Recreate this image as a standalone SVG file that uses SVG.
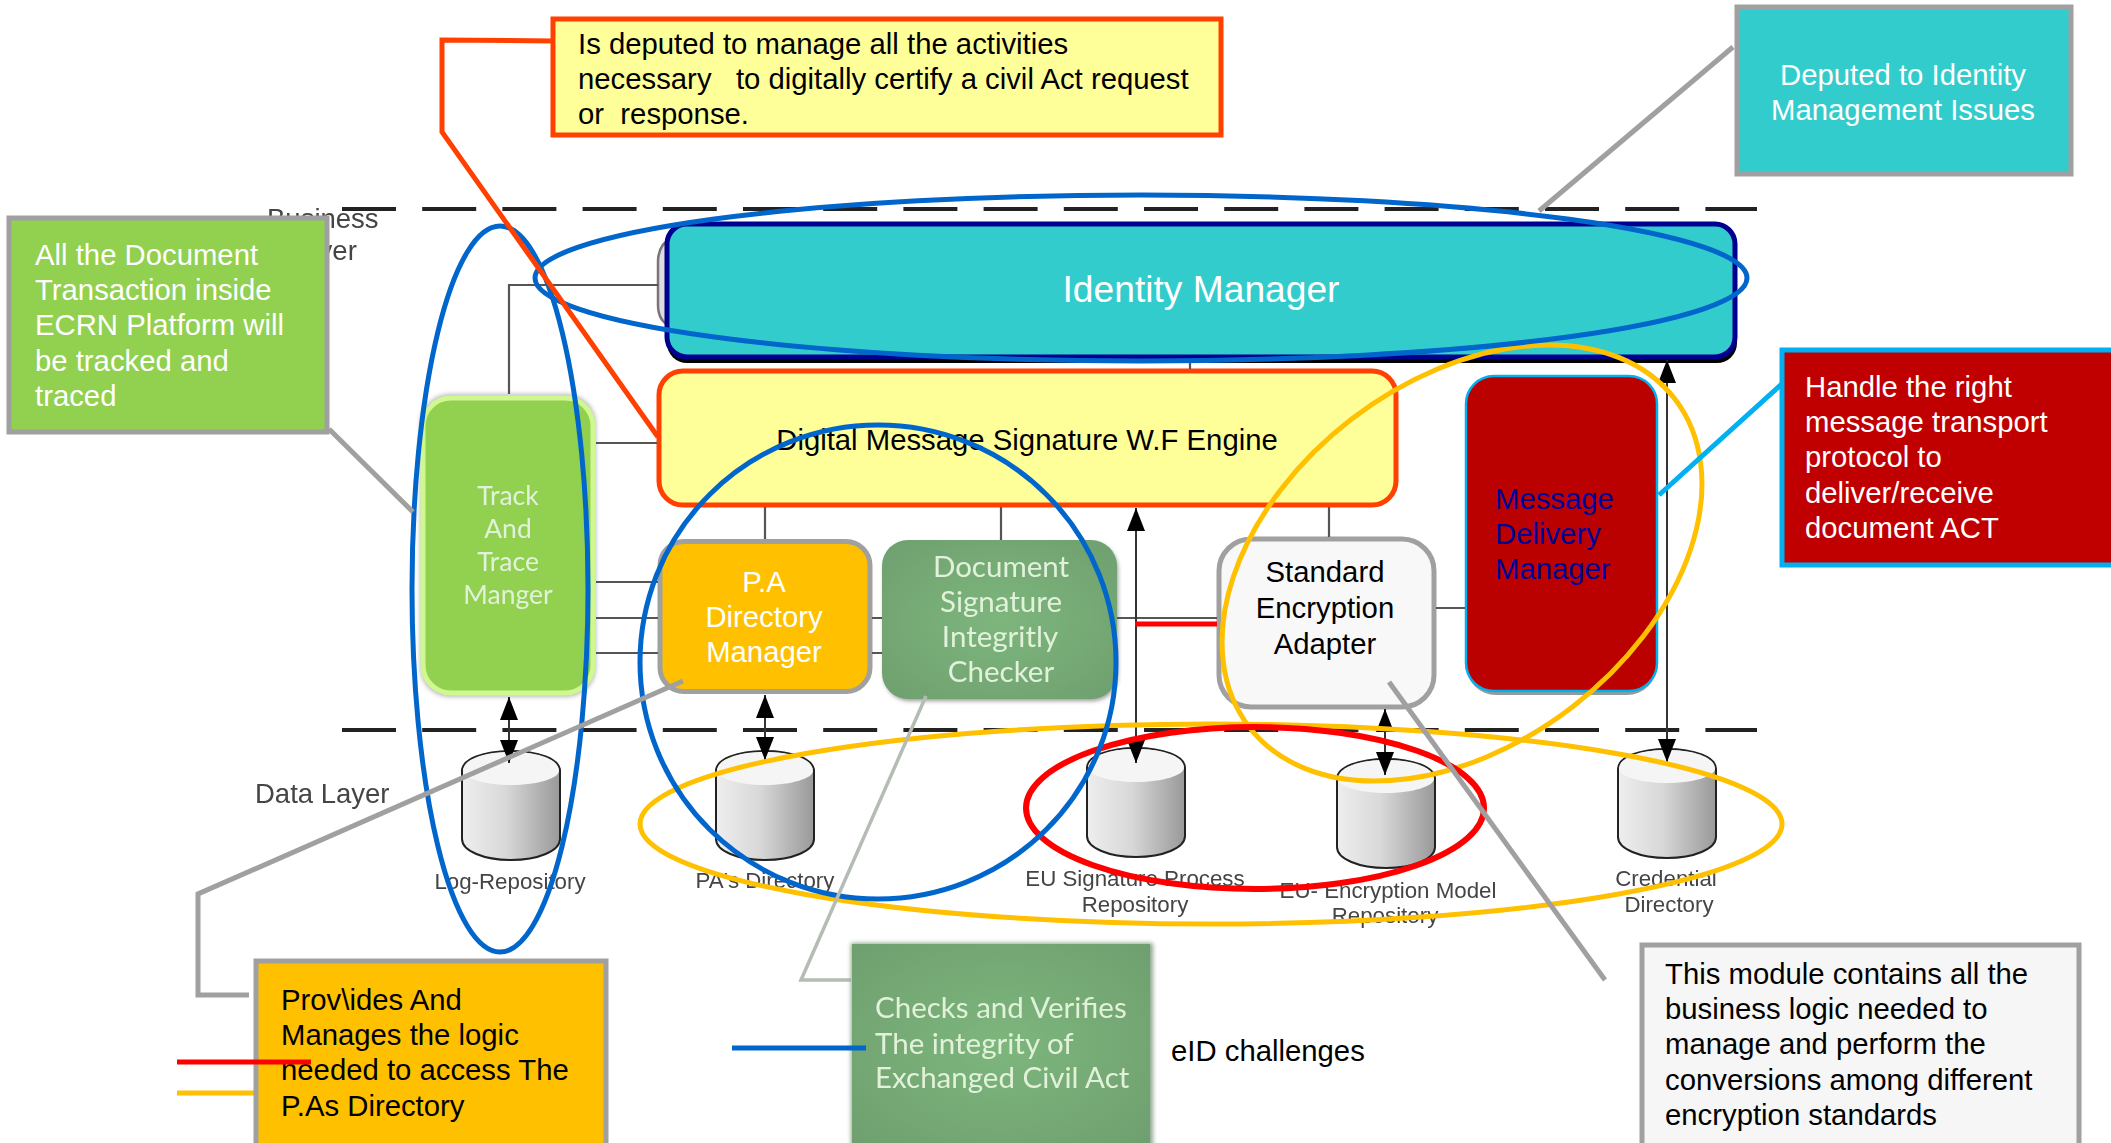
<svg xmlns="http://www.w3.org/2000/svg" width="2111" height="1143" viewBox="0 0 2111 1143">
<style>
text{font-family:"Liberation Sans",Arial,sans-serif}
.note{font-size:29.3px}
.mid{text-anchor:middle}
.wh{fill:#fff}
.bk{fill:#000}
.lay{font-size:27.5px;fill:#444;filter:url(#soft)}
.rep{font-size:22.3px;fill:#444;text-anchor:middle;filter:url(#soft)}
.gill{font-family:Lato,"Open Sans",sans-serif;font-size:29.5px;fill:#e2f2da;filter:url(#soft)}
.dash{stroke:#222;stroke-width:4;stroke-dasharray:54 26.2;fill:none}
.wire{stroke:#555;stroke-width:2.2;fill:none}
.arrow{stroke:#333;stroke-width:2;fill:none;marker-start:url(#ah);marker-end:url(#ah)}
.gline{stroke:#a0a0a0;stroke-width:5;fill:none}
.blue{stroke:#0066cc;stroke-width:5;fill:none}
.orange{stroke:#ffc000;stroke-width:5;fill:none}
.boxg{stroke:#a0a0a0;stroke-width:5}
</style>
<defs>
<filter id="soft" x="-10%" y="-20%" width="120%" height="140%"><feGaussianBlur stdDeviation="0.6"/></filter>
<filter id="blur2" x="-10%" y="-10%" width="120%" height="120%"><feGaussianBlur stdDeviation="2"/></filter>
<marker id="ah" markerUnits="userSpaceOnUse" viewBox="0 0 23 18" refX="23" refY="9" markerWidth="23" markerHeight="18" orient="auto-start-reverse"><path d="M0 0L23 9L0 18Z" fill="#000"/></marker>
<linearGradient id="cyl" x1="0" x2="1" y1="0" y2="0"><stop offset="0" stop-color="#eee"/><stop offset=".45" stop-color="#d8d8d8"/><stop offset="1" stop-color="#999"/></linearGradient>
<radialGradient id="sage" cx=".5" cy=".5" r=".7"><stop offset="0" stop-color="#7db67d"/><stop offset="1" stop-color="#6f9f6f"/></radialGradient>
<g id="db">
<path d="M0 20C0 8 22 0 49 0S98 8 98 20V88C98 100 76 109 49 109S0 100 0 88Z" fill="url(#cyl)" stroke="#222" stroke-width="2"/>
<path d="M1 20C1 8 22 1 49 1S97 8 97 20C97 27 76 34 49 34S1 27 1 20Z" fill="#f5f5f5"/>
</g>
</defs>
<rect width="2111" height="1143" fill="#fff"/>
<g id="layer-lines">
<path class="dash" d="M342 209H1757"/>
<path class="dash" d="M342 730H1757"/>
<text class="lay" x="267" y="228">Business</text>
<text class="lay" x="288" y="260">Layer</text>
<text class="lay" x="255" y="803">Data Layer</text>
</g>
<g id="identity-manager">
<path d="M672 238Q658 244 658 262V305Q658 322 672 327" fill="#ddd" stroke="#777" stroke-width="2.5"/>
<rect x="667" y="229" width="1070" height="134" rx="20" fill="#000"/>
<rect x="667" y="224" width="1068" height="133" rx="20" fill="#33cccc" stroke="#000090" stroke-width="5"/>
<text class="wh mid" x="1201" y="302" font-size="37.2">Identity Manager</text>
</g>
<g id="engine">
<rect x="659" y="371" width="737" height="134" rx="24" fill="#ffff99" stroke="#ff4000" stroke-width="5"/>
<text class="note bk mid" x="1027" y="450">Digital Message Signature W.F Engine</text>
</g>
<g id="track-trace">
<rect x="420" y="394" width="176" height="303" rx="30" fill="#bbb" filter="url(#blur2)"/>
<rect x="423" y="398" width="170" height="295" rx="28" fill="#92d050" stroke="#d0f890" stroke-width="5"/>
<text class="gill mid" style="font-size:26.5px" x="508" y="505">Track</text>
<text class="gill mid" style="font-size:26.5px" x="508" y="538">And</text>
<text class="gill mid" style="font-size:26.5px" x="508" y="571">Trace</text>
<text class="gill mid" style="font-size:26.5px" x="508" y="604">Manger</text>
</g>
<g id="pa-directory">
<rect x="660" y="541.5" width="210" height="150" rx="24" fill="#ffc000" class="boxg"/>
<text class="note wh mid" x="764" y="592">P.A</text>
<text class="note wh mid" x="764" y="627">Directory</text>
<text class="note wh mid" x="764" y="662">Manager</text>
</g>
<g id="doc-checker">
<rect x="884" y="543" width="234" height="158" rx="26" fill="#999" filter="url(#blur2)"/>
<rect x="882" y="540" width="235" height="159" rx="26" fill="url(#sage)" filter="url(#soft)"/>
<text class="gill mid" x="1001" y="577">Document</text>
<text class="gill mid" x="1001" y="612">Signature</text>
<text class="gill mid" x="1000" y="647">Integritly</text>
<text class="gill mid" x="1001" y="682">Checker</text>
</g>
<g id="adapter">
<rect x="1219" y="539" width="215" height="168" rx="32" fill="#f8f8f8" class="boxg"/>
<text class="note bk mid" x="1325" y="582">Standard</text>
<text class="note bk mid" x="1325" y="618">Encryption</text>
<text class="note bk mid" x="1325" y="654">Adapter</text>
</g>
<g id="delivery">
<rect x="1466" y="379" width="191" height="316" rx="30" fill="#999"/>
<rect x="1466" y="376" width="191" height="315" rx="28" fill="#bb0000" stroke="#00b0f0" stroke-width="2.5"/>
<text class="note" fill="#000099" x="1495" y="509">Message</text>
<text class="note" fill="#000099" x="1495" y="544">Delivery</text>
<text class="note" fill="#000099" x="1495" y="579">Manager</text>
</g>
<g id="log-repo"><use href="#db" x="462" y="751"/><text class="rep" x="510" y="889">Log-Repository</text></g>
<g id="pa-repo"><use href="#db" x="716" y="751"/><text class="rep" x="765" y="888">PA's Directory</text></g>
<g id="sig-repo"><use href="#db" x="1087" y="748"/><text class="rep" x="1135" y="886">EU Signature Process</text><text class="rep" x="1135" y="912">Repository</text></g>
<g id="enc-repo"><use href="#db" x="1337" y="759"/><text class="rep" x="1388" y="898">EU- Encryption Model</text><text class="rep" x="1385" y="923">Repository</text></g>
<g id="cred-repo"><use href="#db" x="1618" y="749"/><text class="rep" x="1666" y="886">Credential</text><text class="rep" x="1669" y="912">Directory</text></g>
<g id="connectors">
<path class="wire" d="M509 394V285H658"/>
<path class="wire" d="M596 443H657"/>
<path class="wire" d="M596 582H658M596 618H658M596 653H658"/>
<path class="wire" d="M872 618H882M872 653H882"/>
<path class="wire" d="M765 507V539M1001 507V540M1329 507V537M1190 360V369"/>
<path class="wire" d="M1117 618H1217M1436 608H1465"/>
<path class="arrow" d="M509 697V763"/>
<path class="arrow" d="M765 695V760"/>
<path class="arrow" d="M1136 508V763"/>
<path class="arrow" d="M1385 709V775"/>
<path class="arrow" d="M1667 360V762"/>
<path d="M1135 624H1217" stroke="#ff0000" stroke-width="5" fill="none"/>
</g>
<g id="highlights">
<ellipse class="orange" cx="1211" cy="824" rx="571" ry="100"/>
<ellipse class="orange" cx="1462" cy="563" rx="268.7" ry="181.4" transform="rotate(-37.6 1462 563)"/>
<ellipse cx="1255" cy="808" rx="229" ry="81" fill="none" stroke="#ff0000" stroke-width="6"/>
<ellipse class="blue" cx="500" cy="589" rx="88" ry="363"/>
<ellipse class="blue" cx="1141" cy="278" rx="606" ry="83"/>
<ellipse class="blue" cx="878" cy="662" rx="238" ry="237"/>
</g>
<g id="callouts">
<path d="M553 41L442 40V132L658 437" stroke="#ff4000" stroke-width="5" fill="none"/>
<path class="gline" d="M1733 47L1539 211"/>
<path class="gline" d="M329 429L413 512"/>
<path class="gline" d="M683 681L198 894V995H249"/>
<path d="M926 696L801 980H851" stroke="#b4bcb4" stroke-width="3.5" fill="none"/>
<path class="gline" d="M1389 682L1605 980"/>
<path d="M1785 381L1659 495" stroke="#00b0f0" stroke-width="5" fill="none"/>
</g>
<g id="note-cert">
<rect x="553" y="19" width="668" height="116" fill="#ffff99" stroke="#ff4000" stroke-width="5"/>
<text class="note bk" x="578" y="54">Is deputed to manage all the activities</text>
<text class="note bk" x="578" y="89" xml:space="preserve">necessary   to digitally certify a civil Act request</text>
<text class="note bk" x="578" y="124" xml:space="preserve">or  response.</text>
</g>
<g id="note-identity">
<rect x="1737" y="7" width="334" height="167" fill="#33cccc" class="boxg"/>
<text class="note wh mid" x="1903" y="85">Deputed to Identity</text>
<text class="note wh mid" x="1903" y="120">Management Issues</text>
</g>
<g id="note-track">
<rect x="9" y="218" width="318" height="214" fill="#92d050" class="boxg"/>
<text class="note wh" x="35" y="265">All the Document</text>
<text class="note wh" x="35" y="300">Transaction inside</text>
<text class="note wh" x="35" y="335">ECRN Platform will</text>
<text class="note wh" x="35" y="371">be tracked and</text>
<text class="note wh" x="35" y="406">traced</text>
</g>
<g id="note-delivery">
<rect x="1782" y="350" width="340" height="215" fill="#c00000" stroke="#00b0f0" stroke-width="5"/>
<text class="note wh" x="1805" y="397">Handle the right</text>
<text class="note wh" x="1805" y="432">message transport</text>
<text class="note wh" x="1805" y="467">protocol to</text>
<text class="note wh" x="1805" y="503">deliver/receive</text>
<text class="note wh" x="1805" y="538">document ACT</text>
</g>
<g id="legend-lines-back"><path d="M177 1093H258" stroke="#ffc000" stroke-width="5"/></g>
<g id="note-pa">
<rect x="256" y="961" width="350" height="190" fill="#ffc000" class="boxg"/>
<text class="note bk" x="281" y="1010">Prov\ides And</text>
<text class="note bk" x="281" y="1045">Manages the logic</text>
<text class="note bk" x="281" y="1080">needed to access The</text>
<text class="note bk" x="281" y="1116">P.As Directory</text>
</g>
<g id="note-check">
<rect x="851" y="943" width="302" height="206" fill="#8fa98f" filter="url(#blur2)"/>
<rect x="852" y="944" width="298" height="202" fill="url(#sage)" filter="url(#soft)"/>
<text class="gill" x="875" y="1018">Checks and Verifies</text>
<text class="gill" x="875" y="1054">The integrity of</text>
<text class="gill" x="875" y="1088">Exchanged Civil Act</text>
</g>
<g id="note-adapter">
<rect x="1642" y="945" width="437" height="206" fill="#f6f6f6" class="boxg"/>
<text class="note bk" x="1665" y="984">This module contains all the</text>
<text class="note bk" x="1665" y="1019">business logic needed to</text>
<text class="note bk" x="1665" y="1054">manage and perform the</text>
<text class="note bk" x="1665" y="1090">conversions among different</text>
<text class="note bk" x="1665" y="1125">encryption standards</text>
</g>
<g id="legend">
<path d="M177 1062H311" stroke="#ff0000" stroke-width="5"/>
<path d="M732 1048H866" stroke="#0066cc" stroke-width="5"/>
<text class="note bk" x="1171" y="1061">eID challenges</text>
</g>
</svg>
